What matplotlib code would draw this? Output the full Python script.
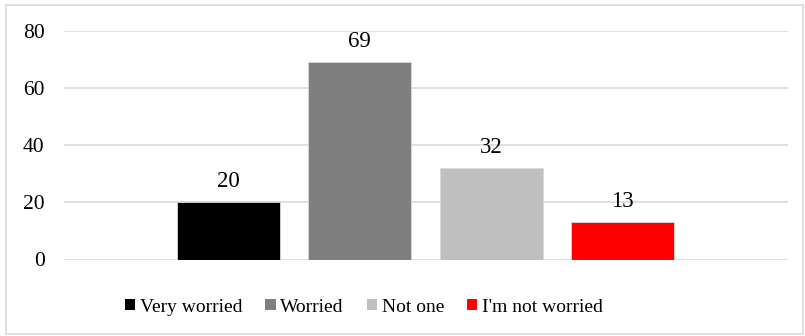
import matplotlib.pyplot as plt
from matplotlib.patches import Patch, Rectangle

# survey answers
labels = ["Very worried", "Worried", "Not one", "I'm not worried"]
counts = [20, 69, 32, 13]
colors = ["#000000", "#7f7f7f", "#bfbfbf", "#ff0000"]
y_ticks = [0, 20, 40, 60, 80]

plt.rcParams['font.family'] = ['Liberation Serif', 'DejaVu Serif']

W, H = 805, 336
fig = plt.figure(figsize=(W / 100, H / 100), dpi=100)

# light frame around the whole chart
fig.patches.append(Rectangle((6 / W, 2 / H), 797 / W, 329 / H, transform=fig.transFigure,
                             fill=False, edgecolor="#d9d9d9", linewidth=1.2))

ax = fig.add_axes([64 / W, (H - 259.5) / H, 724 / W, (259.5 - 30.7) / H])

pos = list(range(len(counts)))
bars = ax.bar(pos, counts, width=0.784, color=colors, edgecolor="#d9d9d9", linewidth=0.6, zorder=3)

for b, v in zip(bars, counts):
    ax.annotate(str(v), (b.get_x() + b.get_width() / 2, v), xytext=(0, 10.8),
                textcoords="offset points", ha="center", va="baseline", fontsize=16.5)

ax.set_xlim(-1.251, 4.259)
ax.set_ylim(0, 80)
ax.set_yticks(y_ticks)
ax.tick_params(axis="y", length=0, pad=14, labelsize=15.5)
ax.set_xticks([])
ax.grid(axis="y", color="#d9d9d9", linewidth=1.2, zorder=0)
for s in ax.spines.values():
    s.set_visible(False)

handles = [Patch(facecolor=c, edgecolor="none") for c in colors]
fig.legend(handles, labels, loc="center", bbox_to_anchor=(364 / W, 1 - 307 / H), ncol=4,
           frameon=False, fontsize=14, handlelength=0.52, handleheight=0.52,
           handletextpad=0.25, columnspacing=1.18)

fig.savefig("out.png", dpi=100)
